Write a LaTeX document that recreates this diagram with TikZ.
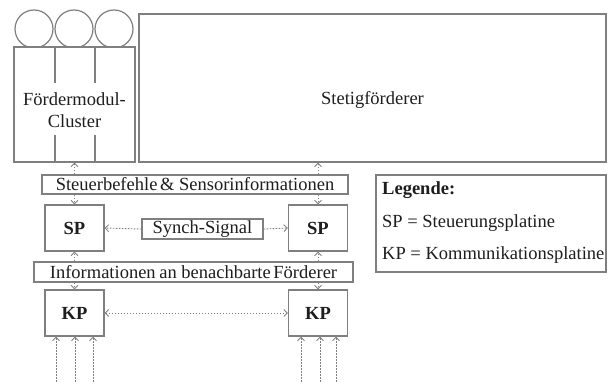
\documentclass[tikz,border=0pt]{standalone}
\usepackage{fontspec}
\setmainfont{Liberation Serif}
\usetikzlibrary{arrows.meta}
\definecolor{edge}{HTML}{7F7F7F}
\definecolor{ink}{HTML}{1E1E1E}
\tikzset{
  box/.style={draw=edge, line width=1.3pt, fill=white, inner sep=0pt, text=ink},
  label/.style={box, font=\fontsize{18.5}{20}\selectfont},
  board/.style={box, minimum width=59pt, minimum height=46pt, font=\fontsize{18.5}{20}\selectfont\bfseries},
  wheel/.style={draw=edge, line width=1.2pt, circle, minimum size=38pt, inner sep=0pt},
  tip/.style={Straight Barb[length=3.5pt,width=7pt,line width=0.8pt]},
  conn/.style={draw=edge, line width=0.9pt, dash pattern=on 1.6pt off 1.4pt, -{Straight Barb[length=3.5pt,width=7pt,line width=0.8pt]}},
  conn2/.style={conn, {Straight Barb[length=3.5pt,width=7pt,line width=0.8pt]}-{Straight Barb[length=3.5pt,width=7pt,line width=0.8pt]}},
  txt/.style={text=ink, inner sep=0pt, font=\fontsize{18.5}{20}\selectfont}
}
\begin{document}
\begin{tikzpicture}[x=1pt, y=-1pt]
\useasboundingbox (0,0) rectangle (610,382);

% conveyor rollers on top of the module cluster
\node[wheel] (w1) at (34,29) {};
\node[wheel] (w2) at (74,29) {};
\node[wheel] (w3) at (114,29) {};

% module cluster with its divider lines
\node[box, minimum width=121pt, minimum height=115pt] (cluster) at (74.5,104.5) {};
\draw[edge, line width=1.2pt] (55,47) -- (55,83) (95,47) -- (95,83)
  (55,135) -- (55,162) (95,135) -- (95,162);
\node[txt, align=center, font=\fontsize{18.5}{22}\selectfont] (clt) at (74.5,110) {Fördermodul-\\Cluster};

% continuous conveyor
\node[box, minimum width=467pt, minimum height=148pt] (steti) at (372.5,88) {};
\node[txt] (stt) at (372.5,100) {Stetigförderer};

% information bars
\node[label, minimum width=306pt, minimum height=19pt] (stb) at (195,184.5) {Steuerbefehle\hspace{-2pt} \& Sensorinformationen};
\node[label, minimum width=319pt, minimum height=20pt] (info) at (193.5,272) {Informationen\hspace{-1pt} an benachbarte\hspace{-2pt} Förderer};

% boards
\node[board] (spL) at (74.5,228) {SP};
\node[board] (spR) at (318,228) {SP};
\node[board] (kpL) at (74.5,313) {KP};
\node[board] (kpR) at (318,313) {KP};

\node[label, minimum width=121pt, minimum height=20pt] (sync) at (202.5,229) {Synch-Signal};

% legend
\node[box, minimum width=230pt, minimum height=97pt] (leg) at (491,223.5) {};
\node[txt, anchor=west, font=\fontsize{18.5}{20}\selectfont\bfseries] (l1) at (382,190) {Legende:};
\node[txt, anchor=west] (l2) at (382,223) {SP = Steuerungsplatine};
\node[txt, anchor=west] (l3) at (382,255) {KP = Kommunikationsplatine};

% signal flow
\draw[conn] (stb.north -| cluster.south) -- (cluster.south);
\draw[conn] (stb.north -| spR.north) -- (steti.south -| spR.north);
\draw[conn] (stb.south -| spL.north) -- (spL.north);
\draw[conn] (stb.south -| spR.north) -- (spR.north);
\draw[conn] (info.north -| spL.south) -- (spL.south);
\draw[conn] (info.north -| spR.south) -- (spR.south);
\draw[conn] (info.south -| kpL.north) -- (kpL.north);
\draw[conn] (info.south -| kpR.north) -- (kpR.north);
\draw[conn] (sync.west) -- (spL.east);
\draw[conn] (sync.east) -- (spR.west);
\draw[conn2] (kpL.east) -- (kpR.west);

% inputs from below
\coordinate (a1) at (56,382);
\coordinate (a2) at (75,382);
\coordinate (a3) at (93,382);
\coordinate (b1) at (301,382);
\coordinate (b2) at (320,382);
\coordinate (b3) at (336,382);
\foreach \p in {a1,a2,a3}{\draw[conn] (\p) -- (\p |- kpL.south);}
\foreach \p in {b1,b2,b3}{\draw[conn] (\p) -- (\p |- kpR.south);}
\end{tikzpicture}
\end{document}
